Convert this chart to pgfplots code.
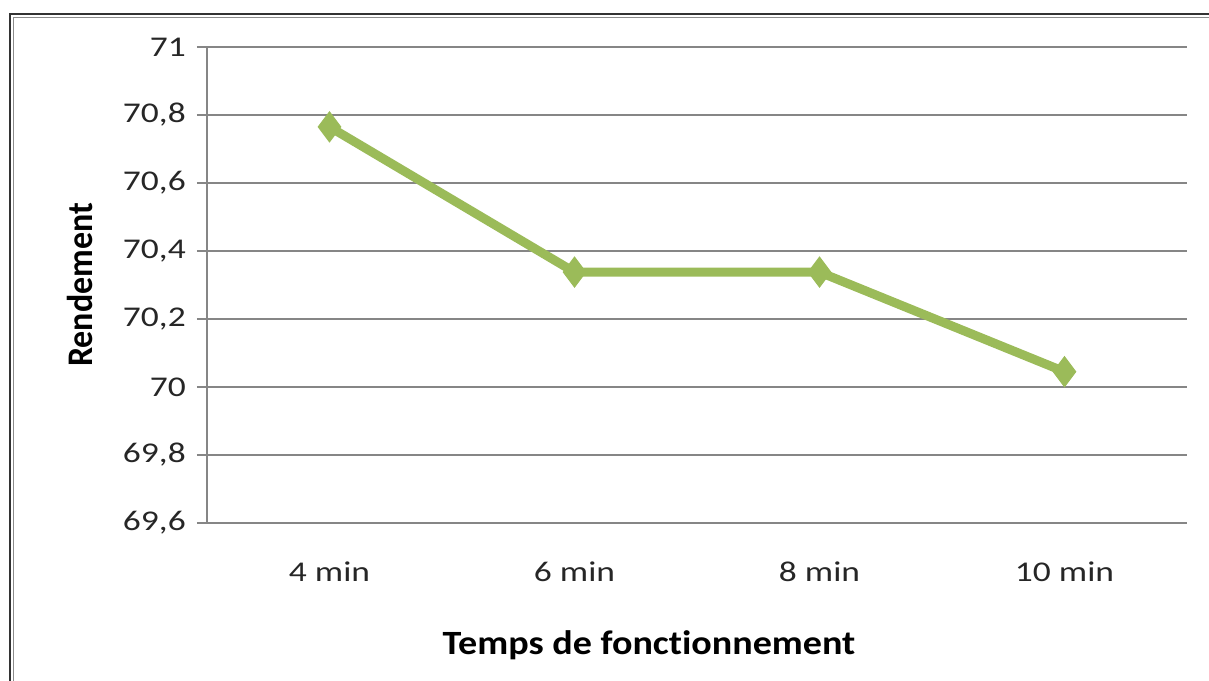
\documentclass[border=0pt]{standalone}
\usepackage{pgfplots}
\pgfplotsset{compat=1.18}
\usepackage{fontspec}
\setmainfont{Carlito}[Ligatures=NoCommon]
\definecolor{exgreen}{RGB}{155,187,89}
\definecolor{gridgray}{RGB}{134,134,134}
\begin{document}
\begin{tikzpicture}
\useasboundingbox (0,0) rectangle (604.5pt,340pt);
\begin{scope}
\clip (0,0) rectangle (604.5pt,340pt);
\draw[line width=0.8pt, black!80] (5pt,-20pt) -- (5pt,333pt) -- (640pt,333pt);
\draw[line width=0.6pt, black!45] (6.6pt,-20pt) -- (6.6pt,331.4pt) -- (640pt,331.4pt);
\end{scope}
\begin{axis}[
  scale only axis,
  width=490pt, height=238pt,
  at={(103.5pt,78.5pt)}, anchor=south west,
  xmin=-0.5, xmax=3.5,
  ymin=69.6, ymax=71,
  xtick={0,1,2,3},
  xticklabels={4 min,6 min,8 min,10 min},
  ytick={69.6,69.8,70,70.2,70.4,70.6,70.8,71},
  /pgf/number format/use comma,
  /pgf/number format/precision=1,
  /pgf/number format/assume math mode=true,
  axis x line*=bottom,
  axis y line*=left,
  axis line style={gridgray, line width=0.6pt},
  ymajorgrids,
  grid style={gridgray, line width=0.6pt},
  x tick style={draw=none},
  y tick style={gridgray, line width=0.6pt},
  tick align=outside,
  major tick length=5pt,
  tick label style={font=\fontsize{14.3}{16}\selectfont, text=black!85, xscale=1.24},
  x tick label style={yshift=-11pt},
  y tick label style={xshift=-1pt},
  xlabel={Temps de fonctionnement},
  ylabel={Rendement},
  label style={font=\bfseries\fontsize{17}{20}\selectfont},
  xlabel style={at={(axis description cs:0.451,0)}, anchor=center, yshift=-61pt, xscale=1.12},
  ylabel style={at={(axis description cs:-0.1296,0.5)}, anchor=center, yscale=1.06},
  clip=false,
]
\addplot[exgreen, line width=4.5pt, mark=diamond*, mark size=7.5pt,
  mark options={solid, fill=exgreen, draw=exgreen, line width=0.5pt}]
  coordinates {(0,70.765) (1,70.338) (2,70.338) (3,70.045)};
\end{axis}
\end{tikzpicture}
\end{document}
